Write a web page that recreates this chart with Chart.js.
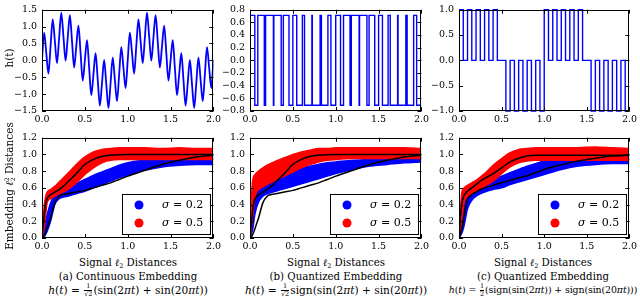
<!DOCTYPE html>
<html>
<head>
<meta charset="utf-8">
<script src="https://cdn.jsdelivr.net/npm/chart.js@4.4.0/dist/chart.umd.min.js"></script>
<style>
  body { margin: 0; width: 640px; height: 297px; background: #fff; position: relative; overflow: hidden; font-family: "DejaVu Serif", serif; color: #000; }
  canvas { position: absolute; }
  .cap { position: absolute; width: 240px; text-align: center; font-size: 10.2px; line-height: 13.5px; white-space: nowrap; }
  .cap sub { font-size: 6.5px; vertical-align: -2px; line-height: 0; }
  .cap .fx { font-size: 10.6px; }
  .cap .fx.narrow { font-size: 9.4px; letter-spacing: -0.1px; }
  .fr { display: inline-flex; flex-direction: column; font-size: 6.5px; line-height: 7px; vertical-align: middle; text-align: center; margin: 0 1px; }
  .fr span:first-child { border-bottom: 0.7px solid #000; }
  .ylab { position: absolute; transform: translate(-50%, -50%) rotate(-90deg); font-size: 10.5px; white-space: nowrap; }
  .ss { display: inline-flex; flex-direction: column; font-size: 6px; line-height: 6px; vertical-align: middle; }
</style>
</head>
<body>
<canvas id="ta" width="218" height="128" style="left:6px;top:-1px"></canvas>
<canvas id="tb" width="218" height="128" style="left:214px;top:-1px"></canvas>
<canvas id="tc" width="217" height="128" style="left:423px;top:-1px"></canvas>
<canvas id="ba" width="218" height="127" style="left:6px;top:127px"></canvas>
<canvas id="bb" width="218" height="127" style="left:214px;top:127px"></canvas>
<canvas id="bc" width="217" height="127" style="left:423px;top:127px"></canvas>

<div class="ylab" style="left:9px;top:58px">h(t)</div>
<div class="ylab" style="left:9px;top:186px">Embedding <i>ℓ</i><span class="ss"><span>2</span><span>2</span></span> Distances</div>

<div class="cap" style="left:8px;top:256px">Signal <i>ℓ</i><sub>2</sub> Distances<br>(a) Continuous Embedding<br><span class="fx"><i>h</i>(<i>t</i>) = <span class="fr"><span>1</span><span>√2</span></span>(sin(2<i>πt</i>) + sin(20<i>πt</i>))</span></div>
<div class="cap" style="left:216px;top:256px">Signal <i>ℓ</i><sub>2</sub> Distances<br>(b) Quantized Embedding<br><span class="fx"><i>h</i>(<i>t</i>) = <span class="fr"><span>1</span><span>√2</span></span>sign(sin(2<i>πt</i>) + sin(20<i>πt</i>))</span></div>
<div class="cap" style="left:423px;top:256px">Signal <i>ℓ</i><sub>2</sub> Distances<br>(c) Quantized Embedding<br><span class="fx narrow"><i>h</i>(<i>t</i>) = <span class="fr"><span>1</span><span>2</span></span>(sign(sin(2<i>πt</i>)) + sign(sin(20<i>πt</i>)))</span></div>

<script>
// top row: the three signals h(t), t in [0, 2]
const T_STEP = 0.025;
const hCont = [0, 0.82, 0.22, -0.39, 0.42, 1.21, 0.57, -0.08, 0.67, 1.41, 0.71, -0.01, 0.67, 1.34, 0.57, -0.21, 0.42, 1.03, 0.22, -0.60,
  0, 0.60, -0.22, -1.03, -0.42, 0.21, -0.57, -1.34, -0.67, 0.01, -0.71, -1.41, -0.67, 0.08, -0.57, -1.21, -0.42, 0.39, -0.22, -0.82,
  0, 0.82, 0.22, -0.39, 0.42, 1.21, 0.57, -0.08, 0.67, 1.41, 0.71, -0.01, 0.67, 1.34, 0.57, -0.21, 0.42, 1.03, 0.22, -0.60,
  0, 0.60, -0.22, -1.03, -0.42, 0.21, -0.57, -1.34, -0.67, 0.01, -0.71, -1.41, -0.67, 0.08, -0.57, -1.21, -0.42, 0.39, -0.22, -0.82, 0];

const qBreaks = [0, 0.056, 0.091, 0.167, 0.182, 0.273, 0.278, 0.364, 0.389, 0.455, 0.5, 0.545, 0.611, 0.636, 0.722, 0.727, 0.818, 0.833, 0.909, 0.944,
  1.0, 1.056, 1.091, 1.167, 1.182, 1.273, 1.278, 1.364, 1.389, 1.455, 1.5, 1.545, 1.611, 1.636, 1.722, 1.727, 1.818, 1.833, 1.909, 1.944, 2.0];
const qLevels = [0.71, -0.71, 0.71, -0.71, 0.71, -0.71, 0.71, -0.71, 0.71, -0.71, 0.71, -0.71, 0.71, -0.71, 0.71, -0.71, 0.71, -0.71, 0.71, -0.71,
  0.71, -0.71, 0.71, -0.71, 0.71, -0.71, 0.71, -0.71, 0.71, -0.71, 0.71, -0.71, 0.71, -0.71, 0.71, -0.71, 0.71, -0.71, 0.71, -0.71];

const C_STEP = 0.05;
const cLevels = [1, 0, 1, 0, 1, 0, 1, 0, 1, 0, 0, -1, 0, -1, 0, -1, 0, -1, 0, -1,
  1, 0, 1, 0, 1, 0, 1, 0, 1, 0, 0, -1, 0, -1, 0, -1, 0, -1, 0, -1];

// bottom row: embedding distance vs signal distance
const sigmas = ['0.2', '0.5'];
const bandX = [0, 0.03, 0.06, 0.1, 0.15, 0.2, 0.3, 0.4, 0.5, 0.6, 0.7, 0.8, 0.9, 1.0, 1.2, 1.4, 1.6, 1.8, 2.0];
const curveX = [0, 0.02, 0.04, 0.06, 0.08, 0.1, 0.15, 0.2, 0.25, 0.3, 0.4, 0.5, 0.6, 0.7, 0.8, 0.9, 1.0, 1.2, 1.4, 1.6, 1.8, 2.0];

const expHigh = [0, 0.22, 0.4, 0.47, 0.5, 0.52, 0.55, 0.58, 0.62, 0.67, 0.77, 0.88, 0.94, 0.975, 0.99, 0.997, 1.0, 1.0, 1.0, 1.0, 1.0, 1.0];
const expLow = [0, 0.02, 0.06, 0.12, 0.18, 0.24, 0.42, 0.5, 0.52, 0.53, 0.55, 0.57, 0.6, 0.63, 0.66, 0.7, 0.74, 0.81, 0.88, 0.93, 0.97, 0.99];
const expHighC = [0, 0.3, 0.45, 0.51, 0.54, 0.56, 0.6, 0.64, 0.68, 0.71, 0.77, 0.84, 0.91, 0.955, 0.98, 0.99, 0.99, 0.99, 0.99, 0.99, 0.99, 0.99];
const expLowC = [0, 0.06, 0.14, 0.26, 0.38, 0.46, 0.52, 0.55, 0.58, 0.6, 0.63, 0.66, 0.69, 0.72, 0.745, 0.78, 0.82, 0.875, 0.92, 0.955, 0.98, 0.99];

const blueLoA = [0, 0.02, 0.08, 0.2, 0.4, 0.47, 0.5, 0.53, 0.56, 0.6, 0.64, 0.68, 0.72, 0.75, 0.81, 0.85, 0.87, 0.88, 0.88];
const blueHiA = [0.03, 0.15, 0.28, 0.42, 0.52, 0.56, 0.6, 0.65, 0.7, 0.75, 0.79, 0.83, 0.87, 0.9, 0.93, 0.95, 0.96, 0.96, 0.96];
const redLoA = [0, 0.15, 0.42, 0.47, 0.5, 0.53, 0.58, 0.66, 0.76, 0.84, 0.9, 0.93, 0.94, 0.94, 0.94, 0.94, 0.94, 0.94, 0.94];
const redHiA = [0.05, 0.42, 0.55, 0.58, 0.62, 0.67, 0.77, 0.88, 0.97, 1.03, 1.06, 1.07, 1.08, 1.08, 1.08, 1.07, 1.08, 1.07, 1.07];

const blueLoB = [0, 0.1, 0.3, 0.43, 0.5, 0.53, 0.56, 0.59, 0.62, 0.65, 0.68, 0.71, 0.74, 0.77, 0.82, 0.86, 0.88, 0.9, 0.91];
const blueHiB = [0.05, 0.4, 0.55, 0.64, 0.68, 0.71, 0.75, 0.78, 0.81, 0.84, 0.86, 0.88, 0.9, 0.91, 0.93, 0.94, 0.95, 0.96, 0.96];
const redLoB = [0, 0.25, 0.5, 0.58, 0.61, 0.64, 0.69, 0.74, 0.79, 0.84, 0.88, 0.91, 0.93, 0.94, 0.95, 0.95, 0.95, 0.95, 0.95];
const redHiB = [0.1, 0.68, 0.76, 0.8, 0.84, 0.87, 0.92, 0.96, 1.0, 1.03, 1.05, 1.07, 1.07, 1.08, 1.08, 1.08, 1.08, 1.08, 1.07];

const blueLoC = [0, 0.05, 0.15, 0.35, 0.45, 0.5, 0.55, 0.58, 0.6, 0.64, 0.67, 0.7, 0.73, 0.76, 0.82, 0.86, 0.88, 0.89, 0.89];
const blueHiC = [0.03, 0.3, 0.45, 0.53, 0.57, 0.6, 0.65, 0.7, 0.74, 0.78, 0.82, 0.86, 0.89, 0.92, 0.94, 0.95, 0.95, 0.95, 0.95];
const redLoC = [0, 0.2, 0.42, 0.5, 0.53, 0.56, 0.62, 0.68, 0.77, 0.85, 0.9, 0.92, 0.93, 0.93, 0.93, 0.93, 0.93, 0.93, 0.93];
const redHiC = [0.05, 0.52, 0.6, 0.63, 0.66, 0.69, 0.77, 0.87, 0.95, 1.02, 1.06, 1.07, 1.08, 1.08, 1.08, 1.08, 1.09, 1.08, 1.07];

const BLUE = '#0000ff';
const RED = '#ff0000';
const FONT = '"DejaVu Serif", serif';

const fmt = v => (Math.round(v * 10) / 10).toFixed(1).replace('-', '\u2212');
const zip = (xs, ys) => xs.map((x, i) => ({ x, y: ys[i] }));

// matplotlib style box with inward ticks on all four sides
const frame = {
  id: 'frame',
  afterDatasetsDraw(chart) {
    const { ctx, chartArea: a, scales: { x, y } } = chart;
    ctx.save();
    ctx.strokeStyle = '#000';
    ctx.lineWidth = 1;
    ctx.beginPath();
    x.ticks.forEach(t => {
      const px = Math.round(x.getPixelForValue(t.value)) + 0.5;
      ctx.moveTo(px, a.bottom); ctx.lineTo(px, a.bottom - 4);
      ctx.moveTo(px, a.top); ctx.lineTo(px, a.top + 4);
    });
    y.ticks.forEach(t => {
      const py = Math.round(y.getPixelForValue(t.value)) + 0.5;
      ctx.moveTo(a.left, py); ctx.lineTo(a.left + 4, py);
      ctx.moveTo(a.right, py); ctx.lineTo(a.right - 4, py);
    });
    ctx.stroke();
    ctx.strokeRect(Math.round(a.left) + 0.5, Math.round(a.top) + 0.5, Math.round(a.width) - 1, Math.round(a.height) - 1);
    ctx.restore();
  }
};

const sigmaLegend = {
  id: 'sigmaLegend',
  afterDatasetsDraw(chart, args, opts) {
    if (!opts.show) return;
    const { ctx, chartArea: a } = chart;
    const x0 = Math.round(a.right) - 91, y0 = Math.round(a.bottom) - 44;
    ctx.save();
    ctx.fillStyle = '#fff';
    ctx.fillRect(x0, y0, 88, 40);
    ctx.strokeStyle = '#000';
    ctx.lineWidth = 1;
    ctx.strokeRect(x0 + 0.5, y0 + 0.5, 88, 40);
    ctx.textBaseline = 'middle';
    sigmas.forEach((s, i) => {
      const cy = y0 + 11 + i * 18;
      ctx.fillStyle = i === 0 ? BLUE : RED;
      ctx.beginPath();
      ctx.arc(x0 + 17, cy, 4.5, 0, Math.PI * 2);
      ctx.fill();
      ctx.fillStyle = '#000';
      ctx.font = 'italic 11px ' + FONT;
      ctx.fillText('\u03c3', x0 + 40, cy);
      const w = ctx.measureText('\u03c3').width;
      ctx.font = '11px ' + FONT;
      ctx.fillText(' = ' + s, x0 + 40 + w, cy);
    });
    ctx.restore();
  }
};

function makeChart(id, datasets, yMin, yMax, yStep, legend, rightPad) {
  return new Chart(document.getElementById(id), {
    type: 'line',
    data: { datasets },
    options: {
      responsive: false,
      animation: false,
      events: [],
      layout: { padding: { top: 6, right: rightPad, left: 0, bottom: 0 } },
      plugins: { legend: { display: false }, tooltip: { enabled: false }, sigmaLegend: { show: legend } },
      scales: {
        x: {
          type: 'linear', min: 0, max: 2,
          grid: { display: false, drawTicks: false }, border: { display: false },
          ticks: { stepSize: 0.5, autoSkip: false, maxRotation: 0, padding: 3, color: '#000', font: { family: FONT, size: 9.5 }, callback: fmt },
          afterFit: s => { s.height = 16; }
        },
        y: {
          min: yMin, max: yMax,
          grid: { display: false, drawTicks: false }, border: { display: false },
          ticks: { stepSize: yStep, autoSkip: false, padding: 5, color: '#000', font: { family: FONT, size: 9.5 }, callback: fmt },
          afterFit: s => { s.width = 36; }
        }
      }
    },
    plugins: [frame, sigmaLegend]
  });
}

function stepPoints(breaks, levels) {
  const pts = levels.map((v, i) => ({ x: breaks[i], y: v }));
  pts.push({ x: breaks[breaks.length - 1], y: levels[levels.length - 1] });
  return pts;
}

// top panels
makeChart('ta', [{
  data: hCont.map((v, i) => ({ x: i * T_STEP, y: v })),
  borderColor: BLUE, borderWidth: 1.8, pointRadius: 0, cubicInterpolationMode: 'monotone', fill: false
}], -1.5, 1.5, 0.5, false, 10);

makeChart('tb', [{
  data: stepPoints(qBreaks, qLevels),
  borderColor: BLUE, borderWidth: 1.4, pointRadius: 0, stepped: true, fill: false
}], -0.8, 0.8, 0.2, false, 10);

const cBreaks = cLevels.map((v, i) => i * C_STEP).concat([2]);
makeChart('tc', [{
  data: stepPoints(cBreaks, cLevels),
  borderColor: BLUE, borderWidth: 1.4, pointRadius: 0, stepped: true, fill: false, clip: 4
}], -1, 1, 0.5, false, 9);

// bottom panels
function bottomSets(hi, lo, bLo, bHi, rLo, rHi) {
  const line = (ys, xs, color, w, fill) => ({
    data: zip(xs, ys), borderColor: color, backgroundColor: color, borderWidth: w,
    pointRadius: 0, cubicInterpolationMode: 'monotone', fill
  });
  return [
    line(hi, curveX, '#000', 1.5, false),
    line(lo, curveX, '#000', 1.5, false),
    line(rLo, bandX, RED, 1.5, false),
    line(rHi, bandX, RED, 1.5, 2),
    line(bLo, bandX, BLUE, 1.5, false),
    line(bHi, bandX, BLUE, 1.5, 4)
  ];
}

makeChart('ba', bottomSets(expHigh, expLow, blueLoA, blueHiA, redLoA, redHiA), 0, 1.2, 0.2, true, 10);
makeChart('bb', bottomSets(expHigh, expLow, blueLoB, blueHiB, redLoB, redHiB), 0, 1.2, 0.2, true, 10);
makeChart('bc', bottomSets(expHighC, expLowC, blueLoC, blueHiC, redLoC, redHiC), 0, 1.2, 0.2, true, 9);
</script>
</body>
</html>
